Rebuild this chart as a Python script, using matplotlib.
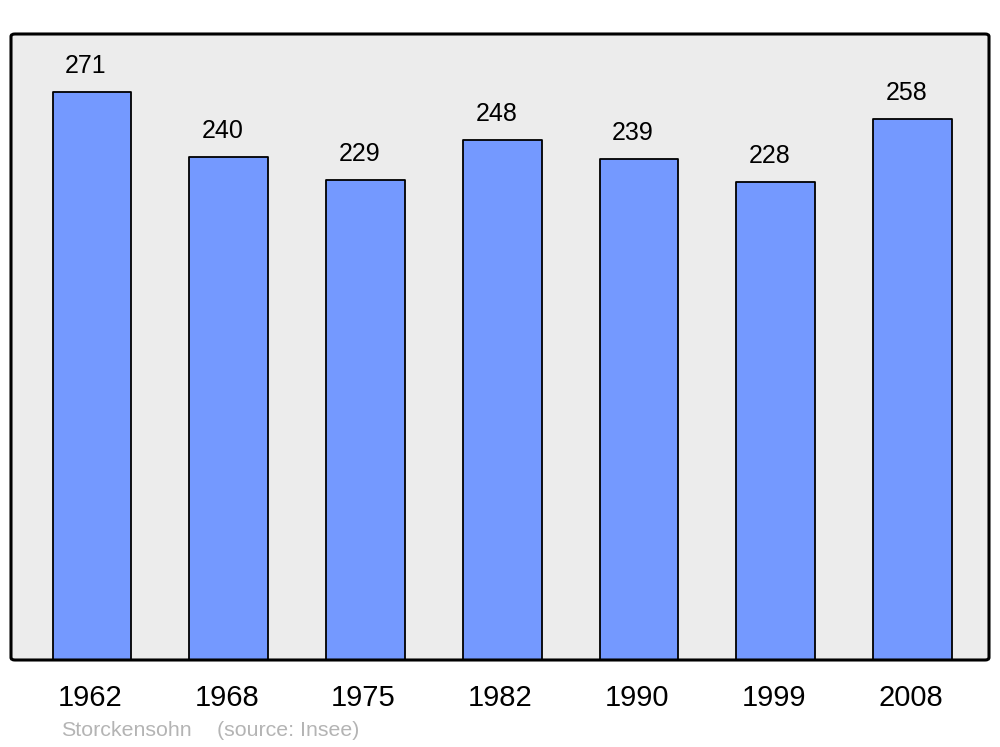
import matplotlib.pyplot as plt
import matplotlib.transforms as mtransforms
from matplotlib.patches import FancyBboxPatch

plt.rcParams['font.family'] = ['Liberation Sans', 'DejaVu Sans']

years = ['1962', '1968', '1975', '1982', '1990', '1999', '2008']
population = [271, 240, 229, 248, 239, 228, 258]

fig = plt.figure(figsize=(10, 7.47), dpi=100)
ax = fig.add_axes([0.011, 1 - 660 / 747, 0.978, 626 / 747])
ax.set_facecolor('#ececec')

x = range(len(years))
bars = ax.bar(x, population, width=0.577, color='#7499ff', edgecolor='black',
              linewidth=1.3, zorder=2)
for b in bars:
    b.set_joinstyle('round')

for xi, v in zip(x, population):
    ax.annotate(str(v), (xi, v), xytext=(-4.3, 18.8), textcoords='offset points',
                ha='center', va='center', fontsize=18)

ax.set_xlim(-0.592, 6.559)
ax.set_ylim(0, 298.7)
ax.set_yticks([])
ax.set_xticks(list(x))
ax.set_xticklabels(years, fontsize=21)
ax.tick_params(axis='x', length=0, pad=17)
shift = mtransforms.ScaledTranslation(-1.5 / 72, 0, fig.dpi_scale_trans)
for lbl in ax.get_xticklabels():
    lbl.set_transform(lbl.get_transform() + shift)
for s in ax.spines.values():
    s.set_visible(False)

frame = FancyBboxPatch((0, 0), 1, 1, boxstyle='round,pad=0,rounding_size=0.004',
                       transform=ax.transAxes, facecolor='none', edgecolor='black',
                       linewidth=2.2, clip_on=False, zorder=5)
ax.add_patch(frame)

fig.text(0.061, 1 - 730 / 747, 'Storckensohn', color='#b4b4b4', fontsize=15.4, va='center')
fig.text(0.217, 1 - 730 / 747, '(source: Insee)', color='#b4b4b4', fontsize=15.4, va='center')

fig.savefig('out.png', dpi=100)
